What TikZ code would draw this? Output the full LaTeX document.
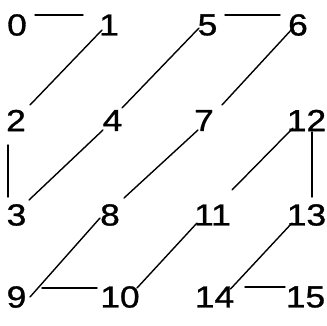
\documentclass[tikz,border=0pt]{standalone}
\usepackage{fontspec}
\newfontfamily\digitfont[FakeStretch=1.16, FakeBold=1]{Liberation Sans}
\tikzset{
  num/.style={inner sep=0pt, font=\digitfont\fontsize{30.5}{30.5}\selectfont},
  link/.style={line width=1.4pt, line cap=round},
}
\begin{document}
\begin{tikzpicture}[x=1pt, y=-1pt]
  \fill[white] (0,0) rectangle (327,326);
  \useasboundingbox (0,0) rectangle (327,326);
  % row 1
  \node[num] (n0) at (17, 25) {0};
  \node[num] (n1) at (109, 25) {1};
  \node[num] (n5) at (207.5, 25) {5};
  \node[num] (n6) at (298, 25) {6};
  % row 2
  \node[num] (n2) at (16, 120.5) {2};
  \node[num] (n4) at (112.5, 120.5) {4};
  \node[num] (n7) at (204, 120.5) {7};
  \node[num] (n12) at (306.5, 120.5) {12};
  % row 3
  \node[num] (n3) at (16.5, 215) {3};
  \node[num] (n8) at (110, 215) {8};
  \node[num] (n11) at (212.5, 215) {11};
  \node[num] (n13) at (306.5, 215) {13};
  % row 4
  \node[num] (n9) at (16.5, 297) {9};
  \node[num] (n10) at (120, 297) {10};
  \node[num] (n14) at (214.5, 297) {14};
  \node[num] (n15) at (305.5, 297) {15};
  % horizontal links
  \draw[link] ([shift={(18,-10)}]n0.center) -- ([shift={(-26,-10)}]n1.center);
  \draw[link] ([shift={(17.5,-10)}]n5.center) -- ([shift={(-18,-10)}]n6.center);
  \draw[link] ([shift={(25.5,-9)}]n9.center) -- ([shift={(-23,-9)}]n10.center);
  \draw[link] ([shift={(30.5,-10)}]n14.center) -- ([shift={(-20.5,-10)}]n15.center);
  % vertical links
  \draw[link] ([shift={(-8,24.5)}]n2.center) -- ([shift={(-8.5,-18)}]n3.center);
  \draw[link] ([shift={(5.5,11.5)}]n12.center) -- ([shift={(5.5,-18)}]n13.center);
  % diagonal links
  \draw[link] ([shift={(-7,5)}]n1.center) -- ([shift={(14,-15.5)}]n2.center);
  \draw[link] ([shift={(-8.5,3)}]n5.center) -- ([shift={(9.5,-12.5)}]n4.center);
  \draw[link] ([shift={(-5,3)}]n6.center) -- ([shift={(18,-15.5)}]n7.center);
  \draw[link] ([shift={(-9.5,9.5)}]n4.center) -- ([shift={(12.5,-15)}]n3.center);
  \draw[link] ([shift={(-6,9.5)}]n7.center) -- ([shift={(14,-17)}]n8.center);
  \draw[link] ([shift={(-13.5,7.5)}]n12.center) -- ([shift={(19.5,-25)}]n11.center);
  \draw[link] ([shift={(-10,3)}]n8.center) -- ([shift={(13.5,0)}]n9.center);
  \draw[link] ([shift={(-15.5,8)}]n11.center) -- ([shift={(17,-9)}]n10.center);
  \draw[link] ([shift={(-14.5,8)}]n13.center) -- ([shift={(16,-8)}]n14.center);
\end{tikzpicture}
\end{document}
